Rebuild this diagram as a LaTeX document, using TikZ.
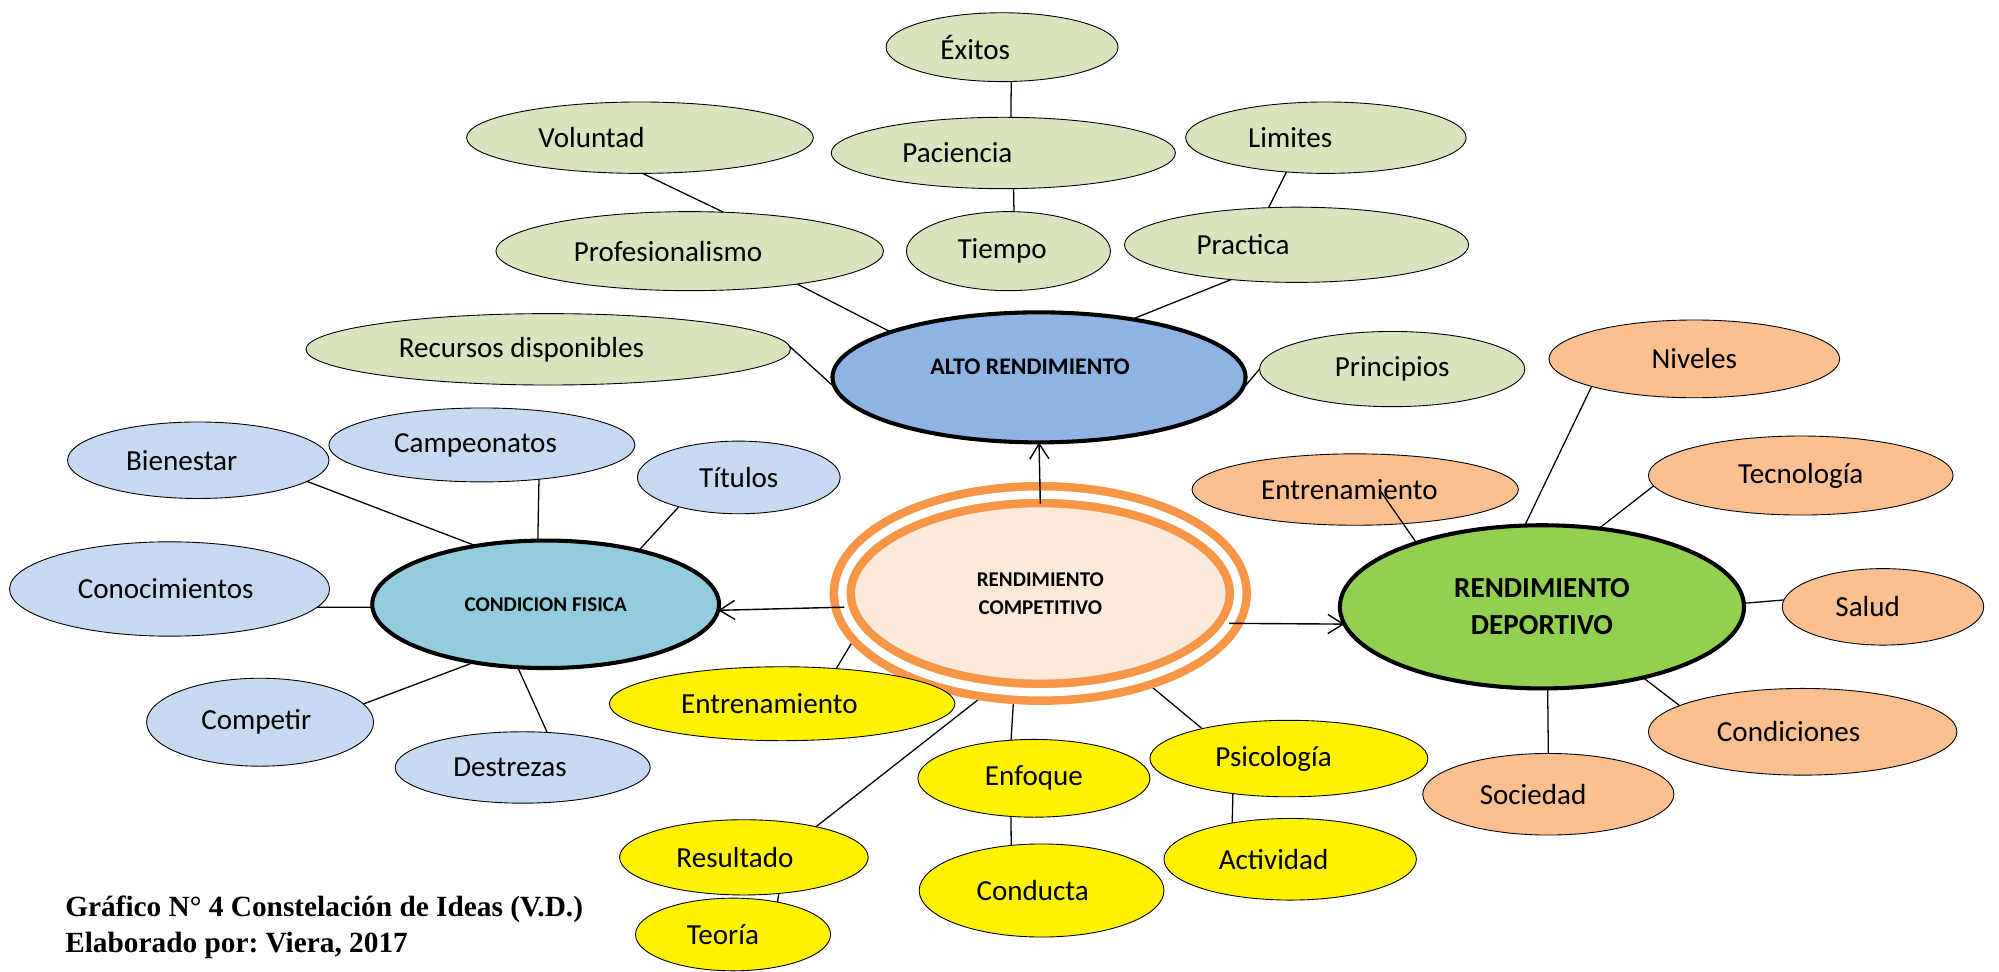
\documentclass[tikz,border=0pt]{standalone}
\usepackage{fontspec}
\setmainfont{Carlito}
\newfontfamily\capfont{Liberation Serif}
\usetikzlibrary{shapes.geometric,arrows.meta,backgrounds}
\definecolor{cGreen}{HTML}{D7E4BD}
\definecolor{cBlue}{HTML}{C6D9F1}
\definecolor{cAqua}{HTML}{93CDDD}
\definecolor{cAlto}{HTML}{8EB4E3}
\definecolor{cOrange}{HTML}{FAC090}
\definecolor{cLime}{HTML}{92D050}
\definecolor{cPeach}{HTML}{FDE9D9}
\definecolor{cRing}{HTML}{F79646}
\newcommand\fN{\fontsize{22.8}{27}\selectfont}
\frenchspacing
\tikzset{
  bub/.style={ellipse, inner sep=0pt, outer sep=0pt, font=\fN, draw=black, line width=0.7pt},
  gN/.style={bub, fill=cGreen},
  bN/.style={bub, fill=cBlue},
  yN/.style={bub, fill=yellow},
  oN/.style={bub, fill=cOrange},
  hub/.style={ellipse, inner sep=0pt, outer sep=0pt, draw=black, line width=3.2pt, align=center},
  sz/.style 2 args={minimum width=#1pt, minimum height=#2pt},
  ln/.style={line width=1pt, draw=black},
  arr/.style={line width=1.1pt, draw=black, -{Straight Barb[length=12pt,width=15pt]}},
  captxt/.style={anchor=base west, inner sep=0pt, font=\capfont\bfseries\fontsize{23}{27}\selectfont}
}
\begin{document}
\begin{tikzpicture}[x=1pt,y=-1pt]
\useasboundingbox (0,0) rectangle (1568,762);
% ---- top (green) ----
\node[gN, sz={182}{54}]  (exi) at (786,37)   {Éxitos\hspace*{42pt}};
\node[gN, sz={272}{56}]  (vol) at (502,108)  {Voluntad\hspace*{76pt}};
\node[gN, sz={270}{56}]  (pac) at (787,120)  {Paciencia\hspace*{72pt}};
\node[gN, sz={220}{56}]  (lim) at (1040,108) {Limites\hspace*{56pt}};
\node[gN, sz={304}{62}]  (pro) at (541,197)  {Profesionalismo\hspace*{34pt}};
\node[gN, sz={160}{62}]  (tie) at (791,197)  {Tiempo\hspace*{10pt}};
\node[gN, sz={270}{59}]  (pra) at (1017,192) {Practica\hspace*{84pt}};
\node[gN, sz={380}{56}]  (rec) at (430,274)  {Recursos disponibles\hspace*{42pt}};
\node[gN, sz={208}{59}]  (pri) at (1092,289.5) {Principios};
\node[hub, sz={324}{102}, fill=cAlto, font=\bfseries\fontsize{18.7}{22}\selectfont] (alto) at (815,296) {\raisebox{16pt}{ALTO RENDIMIENTO}\hspace*{14pt}};
% ---- left (blue) ----
\node[bN, sz={205}{60}]  (bie) at (155.5,361) {Bienestar\hspace*{26pt}};
\node[bN, sz={240}{58}]  (cam) at (378,349)   {Campeonatos\hspace*{10pt}};
\node[bN, sz={159}{57}]  (tit) at (579.5,374.5) {Títulos};
\node[bN, sz={251}{74}]  (con) at (133,462)   {Conocimientos\hspace*{6pt}};
\node[hub, sz={272}{100}, fill=cAqua, font=\bfseries\fontsize{16.5}{20}\selectfont] (cf) at (428,474) {CONDICION FISICA};
\node[bN, sz={178}{69}]  (com) at (204,566.5) {Competir\hspace*{6pt}};
\node[bN, sz={200}{56}]  (des) at (410,602)   {Destrezas\hspace*{20pt}};
% ---- centre ----
\node[ellipse, inner sep=0pt, outer sep=0pt, sz={310.6}{155}, fill=cPeach, draw=cRing,
      line width=6.7pt, double=white, double distance=6.5pt, align=center,
      font=\bfseries\fontsize{16.5}{21.7}\selectfont] (comp) at (816,465.5) {RENDIMIENTO\\COMPETITIVO};
% ---- bottom (yellow) ----
\node[yN, sz={271}{58}]  (ent1) at (613.5,552) {Entrenamiento\hspace*{20pt}};
\node[yN, sz={182}{61}]  (enf) at (811,610.5)  {Enfoque};
\node[yN, sz={218}{60}]  (psi) at (1011,595)   {Psicología\hspace*{24pt}};
\node[yN, sz={195}{59}]  (res) at (583.5,672.5) {Resultado\hspace*{14pt}};
\node[yN, sz={192}{73}]  (cdt) at (817,698.5)  {Conducta\hspace*{14pt}};
\node[yN, sz={198}{64}]  (act) at (1012,674)   {Actividad\hspace*{26pt}};
\node[yN, sz={153}{57}]  (teo) at (575,733)    {Teoría\hspace*{16pt}};
% ---- right (orange) ----
\node[oN, sz={228}{61}]  (niv) at (1329,281.5) {Niveles};
\node[oN, sz={256}{56}]  (ento) at (1063,384)  {Entrenamiento\hspace*{9pt}};
\node[oN, sz={239}{62}]  (tec) at (1412.5,373) {Tecnología};
\node[hub, sz={317}{128}, fill=cLime, font=\bfseries\fontsize{22.8}{29.3}\selectfont] (rd) at (1209.5,476) {RENDIMIENTO\\DEPORTIVO};
\node[oN, sz={158}{60}]  (sal) at (1477,476)   {Salud\hspace*{24pt}};
\node[oN, sz={242}{68}]  (cnd) at (1414,574)   {Condiciones\hspace*{22pt}};
\node[oN, sz={197}{64}]  (soc) at (1214.5,623) {Sociedad\hspace*{24pt}};
% ---- caption ----
\node[captxt] (cap1) at (51,718.5) {Gráfico N° 4 Constelación de Ideas (V.D.)};
\node[captxt] (cap2) at (51,747.5) {Elaborado por: Viera, 2017};
% ---- connectors ----
\begin{scope}[on background layer]
\fill[white] (0,0) rectangle (1568,762);
\draw[ln] (exi.-75) -- (pac.78);
\draw[ln] (vol.-86) -- (pro.49);
\draw[ln] (pac.-74) -- (tie.82);
\draw[ln] (lim.-139) -- (pra.127);
\draw[ln] (pro.-17) -- (alto.163);
\draw[ln] (pra.-152) -- (alto.32);
\draw[ln] (rec.2) -- (alto.183);
\draw[ln] (pri.180) -- (alto.-4);
\draw[ln] (bie.-11.7) -- (cf.140);
\draw[ln] (cam.-31.5) -- (cf.97);
\draw[ln] (tit.-154) -- (cf.30);
\draw[ln] (con.-7) -- (cf.181);
\draw[ln] (com.10) -- (cf.-141);
\draw[ln] (des.55) -- (cf.-114);
\draw[ln] (ent1.33) -- (comp.-168);
\draw[ln] (enf.121) -- (comp.-105);
\draw[ln] (res.23) -- (comp.-117);
\draw[ln] (psi.161) -- (comp.-40);
\draw[ln] (psi.-148) -- (act.148);
\draw[ln] (enf.-121) -- (cdt.124);
\draw[ln] (res.-46) -- (teo.36);
\draw[ln] (niv.-165) -- (rd.102);
\draw[ln] (tec.-176) -- (rd.54);
\draw[ln] (sal.176) -- (rd.1);
\draw[ln] (cnd.168) -- (rd.-35);
\draw[ln] (soc.90) -- (rd.-86);
\end{scope}
\draw[ln] ([xshift=19pt]ento.center) -- (rd.153);
\draw[arr] ([yshift=-7pt]comp.90) -- (alto.-90);
\draw[arr] (comp.184.5) -- (cf.-2);
\draw[arr] (comp.-9.3) -- (rd.185);
\end{tikzpicture}
\end{document}
